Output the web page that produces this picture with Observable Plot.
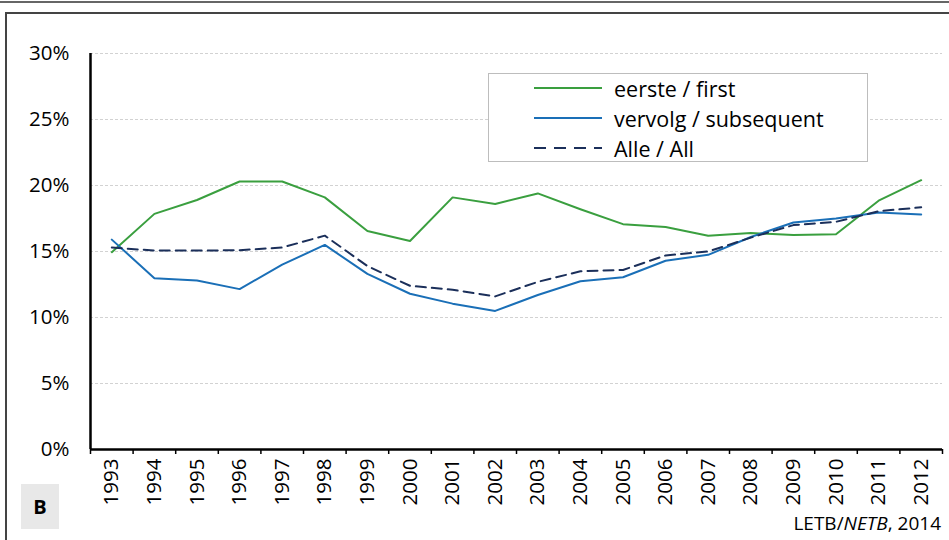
<!DOCTYPE html>
<html>
<head>
<meta charset="utf-8">
<script src="https://cdn.jsdelivr.net/npm/d3@7"></script>
<script src="https://cdn.jsdelivr.net/npm/@observablehq/plot@0.6"></script>
<style>
  html, body { margin: 0; padding: 0; background: #fff; }
  #wrap { position: relative; width: 949px; height: 540px; overflow: hidden; font-family: "Open Sans", sans-serif; }
  #frameTop { position: absolute; left: 0; top: 1px; width: 949px; height: 0; border-top: 2px solid #666; }
  #frameTop2 { position: absolute; left: 5px; top: 12px; width: 944px; height: 0; border-top: 2px solid #444; }
  #frameLeft { position: absolute; left: 5px; top: 12px; width: 0; height: 528px; border-left: 2px solid #444; }
  #legend { position: absolute; left: 488px; top: 73px; width: 378px; height: 87px; border: 1px solid #bdbdbd; background: #fff; }
  .row { position: absolute; left: 0; height: 30px; display: flex; align-items: center; font-size: 21.5px; color: #000; }
  .row svg { margin-left: 45px; margin-right: 12px; }
  #bbox { position: absolute; left: 21px; top: 484px; width: 38px; height: 45px; background: #e8e8e8; font-weight: bold; font-size: 20px; display: flex; align-items: center; justify-content: center; }
  #caption { position: absolute; right: 8px; top: 511px; font-size: 19px; line-height: 24px; color: #000; }
  #chart { position: absolute; left: 0; top: 0; }
</style>
</head>
<body>
<div id="wrap">
  <div id="chart"></div>
  <div id="frameTop"></div>
  <div id="frameTop2"></div>
  <div id="frameLeft"></div>
  <div id="legend"></div>
  <div id="bbox">B</div>
  <div id="caption">LETB/<i>NETB</i>, 2014</div>
</div>
<script>
const years = [1993, 1994, 1995, 1996, 1997, 1998, 1999, 2000, 2001, 2002, 2003, 2004, 2005, 2006, 2007, 2008, 2009, 2010, 2011, 2012];
const eerste = [14.95, 17.85, 18.9, 20.3, 20.3, 19.1, 16.55, 15.8, 19.1, 18.6, 19.4, 18.2, 17.07, 16.85, 16.2, 16.4, 16.25, 16.3, 18.85, 20.4];
const vervolg = [15.9, 12.98, 12.8, 12.15, 14.0, 15.5, 13.3, 11.8, 11.05, 10.5, 11.7, 12.75, 13.05, 14.3, 14.75, 16.1, 17.2, 17.5, 17.95, 17.8];
const alle = [15.3, 15.07, 15.07, 15.1, 15.3, 16.2, 13.9, 12.4, 12.1, 11.6, 12.7, 13.5, 13.6, 14.7, 15.0, 16.05, 17.0, 17.25, 18.05, 18.35];
const yTicks = [0, 5, 10, 15, 20, 25, 30];
const seriesNames = ["eerste / first", "vervolg / subsequent", "Alle / All"];
const seriesColors = ["#3a9f3f", "#1a6fb7", "#1b2f5a"];
const seriesDash = [null, null, "10,6"];

const seriesValues = [eerste, vervolg, alle];
const boundaries = years.map(y => y - 0.5).concat([years[years.length - 1] + 0.5]);

const lineMarks = seriesValues.map((vals, k) =>
  Plot.line(years.map((yr, i) => ({year: yr, v: vals[i]})), {
    x: "year", y: "v", stroke: seriesColors[k], strokeWidth: 2,
    strokeDasharray: seriesDash[k] || undefined
  })
);

const chart = Plot.plot({
  width: 949,
  height: 540,
  marginLeft: 90,
  marginRight: 7,
  marginTop: 53,
  marginBottom: 91,
  x: {domain: [years[0] - 0.5, years[years.length - 1] + 0.5]},
  y: {domain: [0, 30]},
  style: {fontFamily: "'Open Sans', sans-serif", fontSize: "20px", color: "#000", background: "transparent", overflow: "visible"},
  marks: [
    Plot.gridY(yTicks.slice(1), {stroke: "#d2d2d2", strokeOpacity: 1, strokeDasharray: "3,2"}),
    Plot.axisY(yTicks, {tickSize: 0, tickPadding: 21, tickFormat: d => d + "%", label: null, fontSize: 20.5}),
    Plot.axisX(years, {tickSize: 0, tickPadding: 9, tickRotate: -90, tickFormat: d => String(d), label: null, fontSize: 20.5}),
    Plot.axisX(boundaries, {tickSize: 5, tickFormat: () => "", label: null, stroke: "#000", strokeWidth: 1.5}),
    ...lineMarks,
    Plot.ruleY([0], {stroke: "#000", strokeWidth: 2.5}),
    Plot.ruleX([years[0] - 0.5], {stroke: "#000", strokeWidth: 2.5})
  ]
});
document.getElementById("chart").appendChild(chart);

const legend = document.getElementById("legend");
seriesNames.forEach((name, k) => {
  const row = document.createElement("div");
  row.className = "row";
  row.style.top = (-1 + k * 30) + "px";
  const dash = seriesDash[k] ? ` stroke-dasharray="12,8"` : "";
  row.innerHTML = `<svg width="68" height="10"><line x1="0" y1="5" x2="68" y2="5" stroke="${seriesColors[k]}" stroke-width="2"${dash}/></svg><span>${name}</span>`;
  legend.appendChild(row);
});
</script>
</body>
</html>
